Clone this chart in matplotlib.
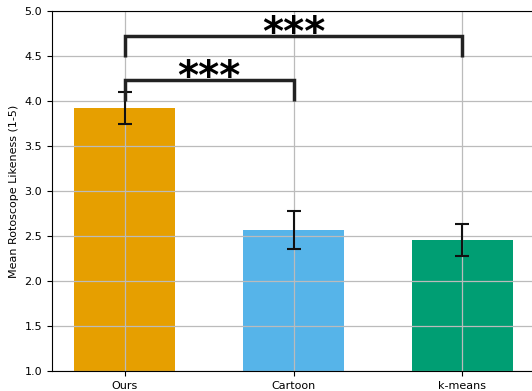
import numpy as np
import matplotlib
matplotlib.use('Agg')
import matplotlib.pyplot as plt

methods = ['Ours', 'Cartoon', 'k-means']
means = [3.92, 2.567, 2.456]
errs = [0.175, 0.21, 0.178]
colors = ['#E69F00', '#56B4E9', '#009E73']

# significance brackets: (left bar, right bar, leg bottom, bar height, label)
brackets = [(0, 1, 4.00, 4.23, '***'),
            (0, 2, 4.49, 4.72, '***')]

fig = plt.figure(figsize=(5.32, 3.91), dpi=100)
ax = fig.add_axes([52/532, 20/391, 483/532, 360/391])

x = np.arange(len(methods))
ax.bar(x, means, width=0.6, color=colors, yerr=errs, capsize=5,
       error_kw=dict(elinewidth=1.5, capthick=1.5, ecolor='#111111'))

for i0, i1, lo, hi, lab in brackets:
    ax.plot([x[i0], x[i0], x[i1], x[i1]], [lo, hi, hi, lo],
            color='#222222', lw=2.5, solid_capstyle='butt', solid_joinstyle='miter')
    ax.text((x[i0] + x[i1]) / 2, hi - 0.2, lab, ha='center', va='bottom',
            fontsize=29, fontweight='bold', color='black')

ax.set_ylim(1.0, 5.0)
ax.set_xticks(x)
ax.set_xticklabels(methods)
ax.set_ylabel('Mean Rotoscope Likeness (1-5)', fontsize=8)
ax.tick_params(labelsize=8)
ax.grid(True, color='#bbbbbb', lw=0.9)

fig.savefig('out.png', dpi=100)
